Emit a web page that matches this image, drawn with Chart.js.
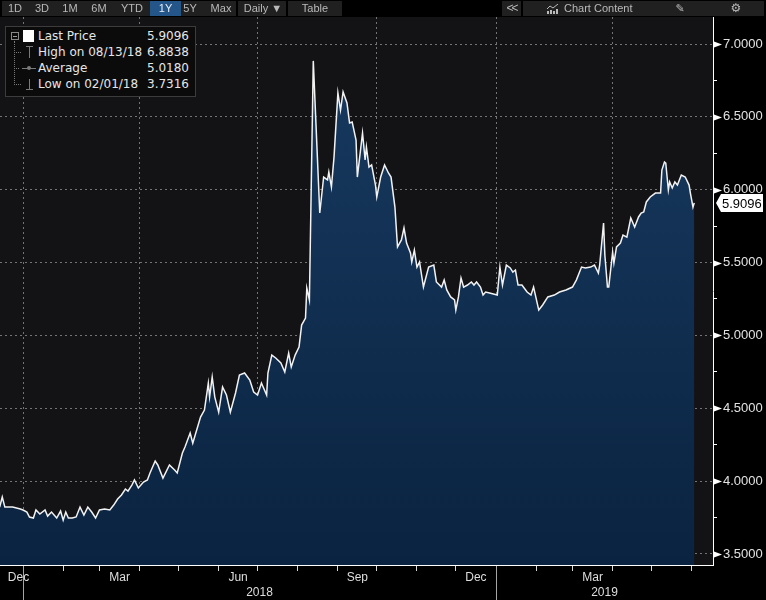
<!DOCTYPE html>
<html>
<head>
<meta charset="utf-8">
<script src="https://cdn.jsdelivr.net/npm/chart.js@4.4.1/dist/chart.umd.min.js"></script>
<style>
  html, body { margin: 0; padding: 0; background: #000; }
  #wrap { position: relative; width: 766px; height: 600px; overflow: hidden; font-family: "Liberation Sans", Arial, sans-serif; }
  #chart { position: absolute; left: 0; top: 0; }
  .bar { position: absolute; top: 1px; height: 15px; background: #202020; }
  .btn { position: absolute; top: 1px; height: 15px; line-height: 15px; color: #b9b9b9; font-size: 11px; text-align: center; }
  .sel { background: #24568a; color: #e6eef6; }
  #legend { position: absolute; left: 5px; top: 26px; width: 189px; height: 69px; border: 1px solid #3c3c3c; background: #0b0b0b; font-family: "DejaVu Sans", sans-serif; font-size: 12px; color: #e6e6e6; }
  .row { position: absolute; left: 32px; right: 6px; height: 16px; line-height: 16px; }
  .row .v { position: absolute; right: 0; top: 0; }
  .ln { position: absolute; background: #7a7a7a; }
  .dot { position: absolute; border-left: 1px dotted #777; }
  .hdot { position: absolute; border-top: 1px dotted #777; }
</style>
</head>
<body>
<div id="wrap">
  <canvas id="chart" width="766" height="600"></canvas>

  <div class="bar" style="left:2px;width:234px"></div>
  <div class="btn" style="left:5px;width:20px">1D</div>
  <div class="btn" style="left:32px;width:20px">3D</div>
  <div class="btn" style="left:60px;width:20px">1M</div>
  <div class="btn" style="left:89px;width:20px">6M</div>
  <div class="btn" style="left:120px;width:24px">YTD</div>
  <div class="btn sel" style="left:150px;width:31px">1Y</div>
  <div class="btn" style="left:180px;width:20px">5Y</div>
  <div class="btn" style="left:208px;width:26px">Max</div>
  <div class="bar" style="left:238px;width:48px"></div>
  <div class="btn" style="left:240px;width:46px">Daily &#9660;</div>
  <div class="bar" style="left:288px;width:54px"></div>
  <div class="btn" style="left:288px;width:54px">Table</div>

  <div class="bar" style="left:502px;width:19px"></div>
  <div class="btn" style="left:502px;width:19px;letter-spacing:-2px;font-size:12px">&lt;&lt;</div>
  <div class="bar" style="left:523px;width:241px"></div>
  <svg style="position:absolute;left:547px;top:4px" width="12" height="10">
    <polyline points="0,5 3,2 6,4 11,0" fill="none" stroke="#bbb" stroke-width="1"/>
    <rect x="0" y="7" width="2" height="3" fill="#bbb"/><rect x="3" y="6" width="2" height="4" fill="#bbb"/>
    <rect x="6" y="7" width="2" height="3" fill="#bbb"/><rect x="9" y="5" width="2" height="5" fill="#bbb"/>
  </svg>
  <div class="btn" style="left:564px;width:70px;text-align:left">Chart Content</div>
  <div class="btn" style="left:672px;width:16px;font-family:'DejaVu Sans';font-size:11px">&#9998;</div>
  <div class="btn" style="left:728px;width:16px;font-family:'DejaVu Sans';font-size:12px">&#9881;</div>

  <div id="legend">
    <div style="position:absolute;left:5px;top:5px;width:6px;height:6px;border:1px solid #888"></div>
    <div class="ln" style="left:7px;top:9px;width:4px;height:1px;background:#999"></div>
    <div style="position:absolute;left:17px;top:3px;width:11px;height:12px;background:#fff"></div>
    <div class="dot" style="left:8px;top:14px;height:44px"></div>
    <div class="hdot" style="left:8px;top:25px;width:7px"></div>
    <div class="hdot" style="left:8px;top:41px;width:5px"></div>
    <div class="hdot" style="left:8px;top:57px;width:7px"></div>
    <div class="ln" style="left:20px;top:19px;width:7px;height:1px"></div>
    <div class="ln" style="left:23px;top:19px;width:1px;height:12px"></div>
    <div class="ln" style="left:16px;top:41px;width:14px;height:1px"></div>
    <div class="ln" style="left:21px;top:39px;width:4px;height:4px;border-radius:2px"></div>
    <div class="ln" style="left:23px;top:52px;width:1px;height:11px"></div>
    <div class="ln" style="left:20px;top:62px;width:7px;height:1px"></div>
  </div>
</div>

<script>
// days counted from 2018-01-01
var days = [
  -18, -16, -14, -8, -2, 0, 3, 5, 8, 10, 13, 17, 19, 22, 26, 29, 31, 33, 35, 38,
  41, 44, 47, 50, 53, 56, 59, 63, 67, 70, 73, 76, 79, 81, 84, 86, 89, 93, 96, 98,
  102, 104, 108, 113, 117, 119, 123, 125, 129, 131, 137, 140, 143, 144, 146, 148, 151, 154, 157, 160,
  164, 167, 171, 175, 178, 181, 184, 188, 189, 192, 195, 199, 202, 205, 207, 210, 213, 215, 218, 219,
  221, 224, 229, 232, 235, 236, 238, 240, 243, 245, 247, 250, 252, 254, 257, 258, 262, 264, 265, 267,
  269, 272, 273, 276, 279, 282, 284, 287, 289, 292, 294, 296, 299, 300, 302, 304, 306, 309, 313, 317,
  319, 323, 325, 327, 330, 333, 334, 336, 338, 340, 343, 346, 348, 350, 353, 355, 357, 360, 366, 368,
  370, 373, 376, 378, 380, 382, 385, 389, 392, 394, 398, 401, 405, 410, 414, 419, 424, 427, 431, 434,
  438, 441, 444, 445, 448, 449, 451, 452, 455, 456, 458, 461, 463, 466, 469, 472, 475, 477, 479, 481,
  484, 488, 492, 493, 495, 496, 498, 499, 501, 503, 505, 508, 511, 514, 515, 517, 518
];
var prices = [
  3.822, 3.891, 3.822, 3.822, 3.809, 3.802, 3.788, 3.754, 3.747, 3.802, 3.774, 3.802, 3.760, 3.788, 3.747, 3.795, 3.732, 3.788, 3.747, 3.747,
  3.754, 3.822, 3.767, 3.822, 3.788, 3.747, 3.802, 3.809, 3.802, 3.836, 3.877, 3.905, 3.946, 3.932, 3.973, 4.008, 3.953, 3.994, 4.008, 4.056,
  4.138, 4.111, 4.021, 4.111, 4.076, 4.056, 4.193, 4.234, 4.330, 4.261, 4.440, 4.488, 4.673, 4.577, 4.714, 4.577, 4.474, 4.646, 4.591, 4.474,
  4.605, 4.728, 4.742, 4.694, 4.612, 4.591, 4.673, 4.591, 4.742, 4.865, 4.845, 4.811, 4.749, 4.879, 4.783, 4.865, 4.920, 5.071, 5.119, 5.325,
  5.243, 6.884, 5.840, 6.087, 6.067, 6.121, 6.019, 6.224, 6.664, 6.547, 6.671, 6.595, 6.458, 6.465, 6.341, 6.087, 6.389, 6.204, 6.293, 6.156,
  6.170, 6.032, 5.950, 6.087, 6.170, 6.115, 6.087, 5.881, 5.607, 5.655, 5.737, 5.634, 5.566, 5.504, 5.586, 5.469, 5.504, 5.332, 5.469, 5.483,
  5.367, 5.332, 5.380, 5.312, 5.264, 5.243, 5.174, 5.264, 5.394, 5.332, 5.346, 5.367, 5.346, 5.367, 5.332, 5.277, 5.298, 5.291, 5.277, 5.469,
  5.346, 5.483, 5.463, 5.435, 5.449, 5.346, 5.346, 5.298, 5.277, 5.332, 5.174, 5.209, 5.264, 5.277, 5.298, 5.312, 5.332, 5.380, 5.469, 5.463,
  5.469, 5.483, 5.428, 5.483, 5.771, 5.552, 5.332, 5.332, 5.572, 5.497, 5.607, 5.634, 5.689, 5.675, 5.806, 5.744, 5.813, 5.840, 5.847, 5.916,
  5.950, 5.977, 5.977, 6.135, 6.190, 6.183, 5.998, 6.053, 6.012, 6.053, 6.032, 6.101, 6.087, 6.032, 5.977, 5.881, 5.9096
];

var legendLabels = ['Last Price', 'High on 08/13/18', 'Average', 'Low on 02/01/18'];
var legendValues = ['5.9096', '6.8838', '5.0180', '3.7316'];
var lastPrice = 5.9096;

var yMajor = [3.5, 4.0, 4.5, 5.0, 5.5, 6.0, 6.5, 7.0];
var yMinor = [3.75, 4.25, 4.75, 5.25, 5.75, 6.25, 6.75];

var monthLabels = ['Dec', 'Mar', 'Jun', 'Sep', 'Dec', 'Mar'];
var monthLabelDays = [-3.5, 74.5, 166, 258, 349.5, 439.5];
var monthStartDays = [0, 31, 59, 90, 120, 151, 181, 212, 243, 273, 304, 334, 365, 396, 424, 455, 485, 516];
var quarterDays = [0, 90, 181, 273, 365, 455];
var yearLabels = ['2018', '2019'];
var yearLabelDays = [182.5, 448.75];
var yearStartDays = [0, 365];

var xMin = -17.75, xMax = 532.45;
var yMin = 3.4245, yMax = 7.1853;
var gridColor = 'rgba(150,150,150,0.75)';
var none = 'rgba(0,0,0,0)';

function hasTick(c, arr) { return !!(c.tick && arr.indexOf(c.tick.value) >= 0); }
function byNum(a, b) { return a - b; }

// legend text
function VeChuGiai() {
    var box = document.getElementById('legend');
    for (var i = 0; i < legendLabels.length; i++) {
        var r = document.createElement('div');
        r.className = 'row';
        r.style.top = (1 + i * 16) + 'px';
        r.innerHTML = '<span>' + legendLabels[i] + '</span><span class="v">' + legendValues[i] + '</span>';
        box.appendChild(r);
    }
}

var plotBg = {
    id: 'plotBg',
    beforeDraw: function (chart) {
        var a = chart.chartArea, ctx = chart.ctx;
        ctx.save();
        ctx.fillStyle = '#131316';
        ctx.fillRect(a.left, a.top, a.right - a.left, a.bottom - a.top);
        ctx.restore();
    }
};

var axisMarks = {
    id: 'axisMarks',
    afterDraw: function (chart) {
        var ctx = chart.ctx, ys = chart.scales.y, x0 = chart.chartArea.right;
        ctx.save();
        ctx.fillStyle = '#ffffff';
        yMajor.forEach(function (v) {
            var y = Math.round(ys.getPixelForValue(v)) + 0.5;
            ctx.beginPath();
            ctx.moveTo(x0 + 1, y - 3);
            ctx.lineTo(x0 + 9, y);
            ctx.lineTo(x0 + 1, y + 3);
            ctx.closePath();
            ctx.fill();
        });
        // last price tag
        var py = Math.round(ys.getPixelForValue(lastPrice));
        ctx.beginPath();
        ctx.moveTo(x0 + 3, py);
        ctx.lineTo(x0 + 8, py - 9);
        ctx.lineTo(x0 + 50, py - 9);
        ctx.lineTo(x0 + 50, py + 9);
        ctx.lineTo(x0 + 8, py + 9);
        ctx.closePath();
        ctx.fill();
        ctx.fillStyle = '#000';
        ctx.font = '13px "Liberation Sans", Arial, sans-serif';
        ctx.textBaseline = 'middle';
        ctx.fillText(lastPrice.toFixed(4), x0 + 9, py + 1);
        ctx.restore();
    }
};

function VeDoThi() {
    var pts = days.map(function (d, i) { return { x: d, y: prices[i] }; });
    var font = { family: '"Liberation Sans", Arial, sans-serif', size: 12 };

    new Chart('chart', {
        type: 'line',
        data: {
            datasets: [{
                data: pts,
                borderColor: '#f2f2f2',
                borderWidth: 1.5,
                pointRadius: 0,
                tension: 0,
                fill: 'start',
                backgroundColor: function (c) {
                    var a = c.chart.chartArea;
                    if (!a) return '#10304f';
                    var g = c.chart.ctx.createLinearGradient(0, a.top, 0, a.bottom);
                    g.addColorStop(0, '#183b62');
                    g.addColorStop(1, '#0a2340');
                    return g;
                }
            }]
        },
        options: {
            responsive: false,
            animation: false,
            events: [],
            layout: { padding: { top: 17, left: 0, right: 0, bottom: 0 } },
            plugins: { legend: { display: false }, tooltip: { enabled: false } },
            scales: {
                x: {
                    type: 'linear', position: 'bottom', weight: 0, min: xMin, max: xMax,
                    afterBuildTicks: function (s) {
                        s.ticks = monthStartDays.concat(monthLabelDays).sort(byNum)
                            .map(function (v) { return { value: v }; });
                    },
                    afterFit: function (s) { s.height = 18; s.paddingLeft = 0; s.paddingRight = 0; },
                    grid: {
                        lineWidth: 1, tickLength: 18,
                        color: function (c) { return hasTick(c, quarterDays) ? gridColor : none; },
                        tickColor: function (c) {
                            if (hasTick(c, yearStartDays)) return '#a5a5a5';
                            return hasTick(c, monthStartDays) ? '#d8d8d8' : none;
                        },
                        tickBorderDash: function (c) { return hasTick(c, yearStartDays) ? [] : [5, 40]; }
                    },
                    border: { color: '#ffffff', width: 1, dash: [2, 3] },
                    ticks: {
                        autoSkip: false, maxRotation: 0, padding: -13, color: '#dedede', font: font,
                        callback: function (v) { var i = monthLabelDays.indexOf(v); return i >= 0 ? monthLabels[i] : ''; }
                    }
                },
                xYear: {
                    type: 'linear', position: 'bottom', weight: 1, min: xMin, max: xMax,
                    afterBuildTicks: function (s) {
                        s.ticks = yearStartDays.concat(yearLabelDays).sort(byNum)
                            .map(function (v) { return { value: v }; });
                    },
                    afterFit: function (s) { s.height = 17; s.paddingLeft = 0; s.paddingRight = 0; },
                    grid: {
                        drawOnChartArea: false, drawTicks: true, tickLength: 17,
                        tickColor: function (c) { return hasTick(c, yearStartDays) ? '#a5a5a5' : none; }
                    },
                    border: { display: false },
                    ticks: {
                        autoSkip: false, maxRotation: 0, padding: -15, color: '#dedede', font: font,
                        callback: function (v) { var i = yearLabelDays.indexOf(v); return i >= 0 ? yearLabels[i] : ''; }
                    }
                },
                y: {
                    type: 'linear', position: 'right', min: yMin, max: yMax,
                    afterBuildTicks: function (s) {
                        s.ticks = yMajor.concat(yMinor).sort(byNum)
                            .map(function (v) { return { value: v }; });
                    },
                    afterFit: function (s) { s.width = 53; s.paddingTop = 0; s.paddingBottom = 0; },
                    grid: {
                        lineWidth: 1, tickLength: 4,
                        color: function (c) { return hasTick(c, yMajor) ? gridColor : none; },
                        tickColor: '#ffffff'
                    },
                    border: { color: '#ffffff', width: 1, dash: [2, 3] },
                    ticks: {
                        autoSkip: false, padding: 6, color: '#e2e2e2',
                        font: { family: '"Liberation Sans", Arial, sans-serif', size: 13 },
                        callback: function (v) { return yMajor.indexOf(v) >= 0 ? v.toFixed(4) : ''; }
                    }
                }
            }
        },
        plugins: [plotBg, axisMarks]
    });
}

VeChuGiai();
VeDoThi();
</script>
</body>
</html>
